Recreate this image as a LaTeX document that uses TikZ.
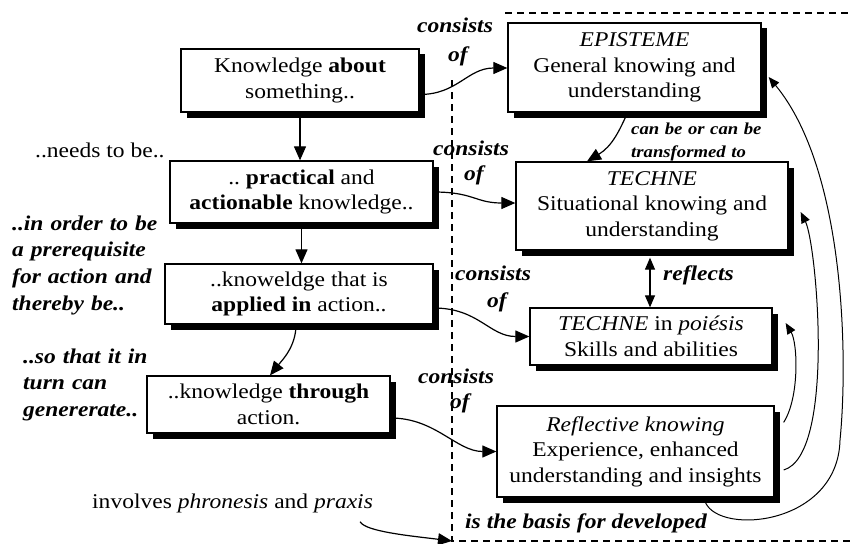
\documentclass[tikz,border=0pt]{standalone}
\usepackage{fontspec}
\setmainfont{Liberation Serif}[FakeStretch=1.12]
\usetikzlibrary{arrows.meta,shadows,calc}
\begin{document}
\begin{tikzpicture}[x=1pt,y=-1pt]
\tikzset{
 box/.style={draw, line width=1.3pt, fill=white, inner sep=0pt, align=center,
   font=\fontsize{21}{25.5}\selectfont,
   general shadow={fill=black, shadow xshift=6pt, shadow yshift=-5.5pt}},
 lab/.style={font=\fontsize{21}{26.7}\selectfont\bfseries\itshape, inner sep=0pt},
 cons/.style={font=\fontsize{21}{26}\selectfont\bfseries\itshape, inner sep=0pt, align=center, text width=90pt, anchor=base},
 plainlab/.style={font=\fontsize{21}{26}\selectfont, inner sep=0pt},
 smalllab/.style={font=\fontsize{16.7}{23}\selectfont\bfseries\itshape, inner sep=0pt},
 conn/.style={line width=1.2pt, -{Triangle[length=14pt,width=12pt]}},
 conn2/.style={line width=1pt, -{Triangle[length=11pt,width=9pt]}},
 dashline/.style={dash pattern=on 7pt off 5pt, line width=1.2pt}
}
\useasboundingbox (0,0) rectangle (850,543);

% dashed frame
\coordinate (corner) at (452,541);
\coordinate (frameTL) at (505,13);
\coordinate (frameTR) at (850,13);
\coordinate (frameL) at (452,80);
\coordinate (frameBR) at (850,541);
\draw[dashline] (frameTL) -- (frameTR);
\draw[dashline] (frameL) -- (corner) -- (frameBR);

% left column boxes
\node[box, minimum width=238pt, minimum height=63pt] (A) at (300,80.5) {Knowledge \textbf{about}\\something..};
\node[box, minimum width=263pt, minimum height=62pt] (B) at (301.5,192) {..\ \textbf{practical} and\\\textbf{actionable} knowledge..};
\node[box, minimum width=268pt, minimum height=60pt] (C) at (299,294) {..knoweldge that is\\\textbf{applied in} action..};
\node[box, minimum width=243pt, minimum height=57pt] (D) at (268.5,404.5) {..knowledge \textbf{through}\\action.};

% right column boxes
\node[box, minimum width=253pt, minimum height=89pt] (E) at (634.5,67.5) {\textit{EPISTEME}\\General knowing and\\understanding};
\node[box, minimum width=272pt, minimum height=88pt] (F) at (652,206) {\textit{TECHNE}\\Situational knowing and\\understanding};
\node[box, minimum width=242pt, minimum height=57pt] (G) at (651,336.5) {\textit{TECHNE} in \textit{poiésis}\\Skills and abilities};
\node[box, minimum width=277pt, minimum height=91pt] (H) at (635.5,451.5) {\textit{Reflective knowing}\\Experience, enhanced\\understanding and insights};

% left labels
\node[plainlab, anchor=base west] (needs) at (35,157) {..needs to be..};
\node[lab, anchor=base west, text width=170pt, align=left] (order) at (12,230) {..in order to be\\a prerequisite\\for action and\\thereby be..};
\node[lab, anchor=base west, text width=170pt, align=left] (sothat) at (23,363) {..so that it in\\turn can\\genererate..};
\node[plainlab, anchor=base west] (inv) at (92,508) {involves \textit{phronesis} and \textit{praxis}};

% consists of labels
\node[cons] (k1) at (455,33) {consists\\[3pt]\hspace*{6pt}of};
\node[cons] (k2) at (471,155) {consists\\[-1pt]\hspace*{6pt}of};
\node[cons] (k3) at (493,280) {consists\\[1pt]\hspace*{8pt}of};
\node[cons] (k4) at (456,383) {consists\\[-1pt]\hspace*{8pt}of};

% right labels
\node[smalllab, anchor=base west, text width=140pt, align=left] (canbe) at (631,134) {can be or can be\\transformed to};
\node[lab, anchor=base west] (refl) at (663,280) {reflects};
\node[lab, anchor=base west] (basis) at (465,528) {is the basis for developed};

% vertical flow
\draw[conn] (A.south) -- (A.south |- B.north);
\draw[conn] (B.south) -- (B.south |- C.north);
\draw[conn] ($(C.south)+(-3,0)$) .. controls +(0,22) and +(12,-15) .. ($(D.north)+(1.5,0)$);

% consists of connectors
\draw[conn] ($(A.east)+(0,14)$) .. controls +(38,0) and +(-40,0) .. ($(E.west)+(0,0.5)$);
\draw[conn] (B.east) .. controls +(40,0) and +(-40,0) .. ($(F.west)+(0,-3)$);
\draw[conn] ($(C.east)+(0,14)$) .. controls +(45,0) and +(-40,0) .. (G.west);
\draw[conn] ($(D.east)+(0,13.5)$) .. controls +(45,0) and +(-40,0) .. (H.west);
\draw[conn] ($(inv.south east)+(-13,9)$) .. controls +(5,10) and +(-40,-5) .. (corner);

% right side
\draw[conn] ($(E.south)+(-7,0)$) .. controls +(-8,18) and +(25,-15) .. ($(F.north)+(-65,0)$);
\draw[line width=1.2pt, {Triangle[length=12pt,width=10pt]}-{Triangle[length=12pt,width=10pt]}] ($(F.south)+(-2,7)$) -- ($(G.north)+(-1,0)$);
\draw[conn2] ($(H.north east)+(9,17)$) .. controls +(16,-25) and +(12,20) .. ($(G.east)+(13,-13.5)$);
\draw[conn2] ($(H.east)+(9,18.5)$) .. controls +(52,-15) and +(16,32) .. ($(F.east)+(12,6)$);
\coordinate (loopR) at (840,440);
\draw[conn2] ($(H.south)+(70,5)$) .. controls +(15,33) and +(-2,85) .. (loopR) .. controls +(8,-80) and +(77,93) .. ($(E.east)+(7,9.5)$);
\end{tikzpicture}
\end{document}
